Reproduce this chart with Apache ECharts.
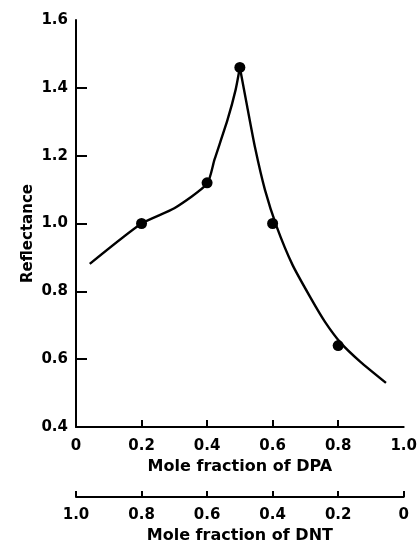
<!DOCTYPE html>
<html>
<head>
<meta charset="utf-8">
<script src="https://cdn.jsdelivr.net/npm/echarts@6/dist/echarts.min.js"></script>
<style>
  html, body { margin: 0; padding: 0; background: #fff; }
  #chart { width: 420px; height: 549px; }
</style>
</head>
<body>
<div id="chart"></div>
<script>
// measured points (mole fraction of DPA, reflectance)
const pointX = [0.2, 0.4, 0.5, 0.6, 0.8];
const pointY = [1.0, 1.12, 1.46, 1.0, 0.64];

// hand-drawn curve, split at the peak so the cusp stays sharp
const leftCurveX = [0.042, 0.2, 0.3, 0.4, 0.4225, 0.4625, 0.487, 0.5];
const leftCurveY = [0.881, 1.0, 1.045, 1.117, 1.188, 1.306, 1.394, 1.46];
const rightCurveX = [0.5, 0.5225, 0.5465, 0.5766, 0.6126, 0.6607, 0.7147, 0.7598, 0.8078, 0.8679, 0.9459];
const rightCurveY = [1.46, 1.344, 1.223, 1.099, 0.990, 0.878, 0.783, 0.710, 0.648, 0.592, 0.530];

const yTicks = [0.6, 0.8, 1.0, 1.2, 1.4];
const dpaTicks = [0.2, 0.4, 0.6, 0.8];
const dntTicks = [0, 0.2, 0.4, 0.6, 0.8, 1.0];

const zip = (xs, ys) => xs.map((x, i) => [x, ys[i]]);

const chart = echarts.init(document.getElementById('chart'));
const font = { fontFamily: 'DejaVu Sans', fontWeight: 'bold', color: '#000' };
const fmt = v => v === 0 ? '0' : v.toFixed(1);

chart.setOption({
  animation: false,
  grid: { left: 76, top: 20, right: 11, bottom: 122 },
  xAxis: [
    {
      type: 'value', min: 0, max: 1, interval: 0.2,
      splitLine: { show: false },
      axisLine: { lineStyle: { color: '#000', width: 2 } },
      axisTick: { inside: true, length: 7, customValues: dpaTicks, lineStyle: { color: '#000', width: 2 } },
      axisLabel: Object.assign({ fontSize: 15, margin: 12, formatter: fmt }, font),
      name: 'Mole fraction of DPA', nameLocation: 'middle', nameGap: 32,
      nameTextStyle: Object.assign({ fontSize: 16 }, font)
    },
    {
      type: 'value', min: 0, max: 1, interval: 0.2, inverse: true,
      position: 'bottom', offset: 70,
      splitLine: { show: false },
      axisLine: { lineStyle: { color: '#000', width: 2 } },
      axisTick: { inside: true, length: 6, customValues: dntTicks, lineStyle: { color: '#000', width: 2 } },
      axisLabel: Object.assign({ fontSize: 15, margin: 11, formatter: fmt }, font),
      name: 'Mole fraction of DNT', nameLocation: 'middle', nameGap: 30,
      nameTextStyle: Object.assign({ fontSize: 16 }, font)
    }
  ],
  yAxis: {
    type: 'value', min: 0.4, max: 1.6, interval: 0.2,
    splitLine: { show: false },
    axisLine: { show: true, lineStyle: { color: '#000', width: 2 } },
    axisTick: { show: true, inside: true, length: 11, customValues: yTicks, lineStyle: { color: '#000', width: 2 } },
    axisLabel: Object.assign({ fontSize: 15, margin: 8, formatter: v => v.toFixed(1) }, font),
    name: 'Reflectance', nameLocation: 'middle', nameGap: 40, nameMoveOverlap: false,
    nameTextStyle: Object.assign({ fontSize: 15, padding: [0, 20, 0, 0] }, font)
  },
  series: [
    {
      type: 'line', xAxisIndex: 0, data: zip(leftCurveX, leftCurveY),
      smooth: 0.2, showSymbol: false, lineStyle: { color: '#000', width: 2.4 }
    },
    {
      type: 'line', xAxisIndex: 0, data: zip(rightCurveX, rightCurveY),
      smooth: 0.2, showSymbol: false, lineStyle: { color: '#000', width: 2.4 }
    },
    {
      type: 'scatter', xAxisIndex: 0, data: zip(pointX, pointY),
      symbolSize: 11, itemStyle: { color: '#000', opacity: 1 }
    }
  ]
});
</script>
</body>
</html>
